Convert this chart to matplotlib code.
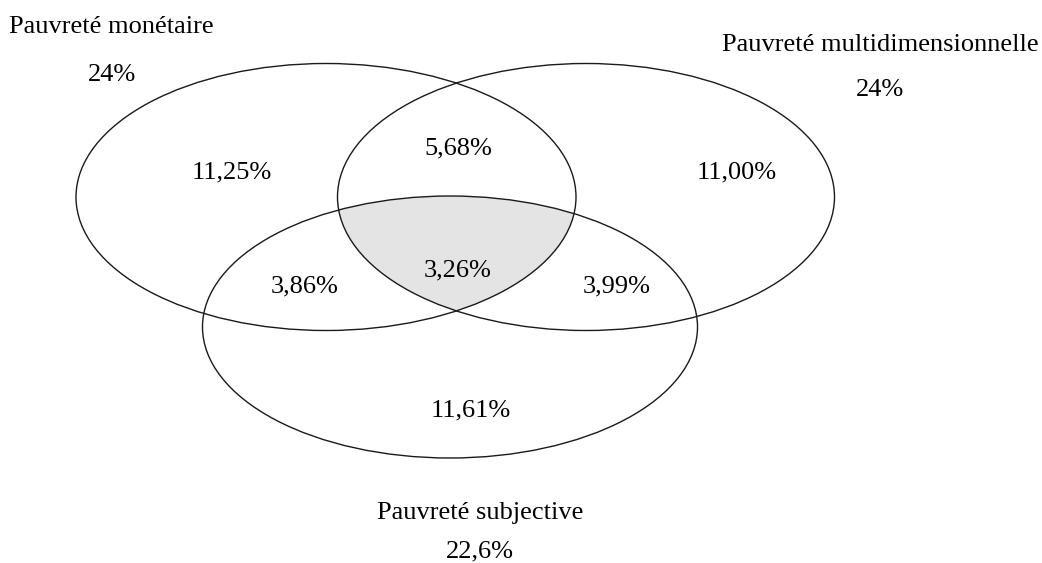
import numpy as np
import matplotlib
matplotlib.use("Agg")
import matplotlib.pyplot as plt
from matplotlib.patches import Ellipse, Polygon

# ---- data ----
set_names = ["Pauvreté monétaire", "Pauvreté multidimensionnelle", "Pauvreté subjective"]
set_totals = ["24%", "24%", "22,6%"]
region_names = ["M seul", "M∩D", "D seul", "M∩S", "M∩D∩S", "D∩S", "S seul"]
region_values = ["11,25%", "5,68%", "11,00%", "3,86%", "3,26%", "3,99%", "11,61%"]

# ---- layout (pixel coordinates, y downward) ----
W, H = 1042, 563
ellipses = [  # cx, cy, width, height
    (326, 197, 500, 267),
    (586, 197, 497, 267),
    (450, 327, 495, 262),
]
name_pos = [(9, 27, "left"), (880, 45, "center"), (480, 513, "center")]
total_pos = [(112, 75), (880, 90), (480, 551)]
region_pos = [(232, 172), (458, 148), (737, 172), (305, 286), (458, 270), (617, 286), (471, 410)]

FONT = "Liberation Serif"
FS = 19

fig = plt.figure(figsize=(W / 100, H / 100), dpi=100)
ax = fig.add_axes([0, 0, 1, 1])
ax.set_xlim(0, W)
ax.set_ylim(H, 0)
ax.axis("off")


def ellipse_poly(cx, cy, w, h, n=1440):
    t = np.linspace(0, 2 * np.pi, n, endpoint=False)
    return np.column_stack([cx + w / 2 * np.cos(t), cy + h / 2 * np.sin(t)])


def intersect(p1, p2, a, b):
    x1, y1 = p1; x2, y2 = p2; x3, y3 = a; x4, y4 = b
    d = (x1 - x2) * (y3 - y4) - (y1 - y2) * (x3 - x4)
    if d == 0:
        return p2
    t = ((x1 - x3) * (y3 - y4) - (y1 - y3) * (x3 - x4)) / d
    return (x1 + t * (x2 - x1), y1 + t * (y2 - y1))


def clip(subject, clipper):
    # Sutherland-Hodgman for a convex clipper
    def inside(p, a, b, s):
        return s * ((b[0] - a[0]) * (p[1] - a[1]) - (b[1] - a[1]) * (p[0] - a[0])) >= 0

    area = 0.5 * np.sum(clipper[:, 0] * np.roll(clipper[:, 1], -1) - np.roll(clipper[:, 0], -1) * clipper[:, 1])
    s = 1 if area > 0 else -1
    out = list(subject)
    for i in range(len(clipper)):
        a, b = clipper[i], clipper[(i + 1) % len(clipper)]
        inp = out
        out = []
        if not inp:
            break
        prev = inp[-1]
        for cur in inp:
            cin, pin = inside(cur, a, b, s), inside(prev, a, b, s)
            if cin:
                if not pin:
                    out.append(intersect(prev, cur, a, b))
                out.append(cur)
            elif pin:
                out.append(intersect(prev, cur, a, b))
            prev = cur
    return np.array(out)


polys = [ellipse_poly(*e, n=360) for e in ellipses]
inter = clip(polys[0], polys[1])
inter = clip(inter, polys[2])
ax.add_patch(Polygon(inter, closed=True, facecolor="#e4e4e4", edgecolor="none", zorder=1))

for (cx, cy, w, h) in ellipses:
    ax.add_patch(Ellipse((cx, cy), w, h, facecolor="none", edgecolor="#1a1a1a", lw=1.0, zorder=2))

for name, (x, y, ha) in zip(set_names, name_pos):
    ax.text(x, y, name, ha=ha, va="center", fontsize=FS, family=FONT, color="black")
for tot, (x, y) in zip(set_totals, total_pos):
    ax.text(x, y, tot, ha="center", va="center", fontsize=FS, family=FONT, color="black")
for val, (x, y) in zip(region_values, region_pos):
    ax.text(x, y, val, ha="center", va="center", fontsize=FS, family=FONT, color="black", zorder=3)

fig.savefig("out.png", dpi=100, facecolor="white")
